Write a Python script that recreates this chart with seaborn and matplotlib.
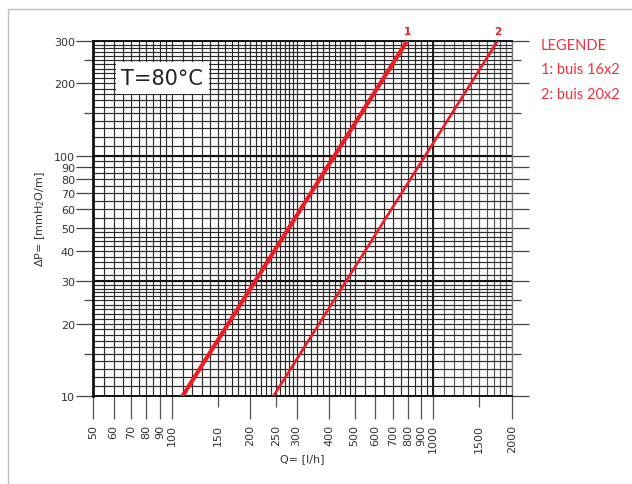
import numpy as np
import pandas as pd
import matplotlib
matplotlib.use("Agg")
import matplotlib.pyplot as plt
import seaborn as sns
from matplotlib.lines import Line2D
from matplotlib.ticker import FixedLocator, FixedFormatter, NullFormatter

# ---- data ----
series_names = ["1", "2"]
q_line1 = [110, 794]
dp_line1 = [10, 300]
q_line2 = [245, 1762]
dp_line2 = [10, 300]

x_major_ticks = [50, 60, 70, 80, 90, 100, 200, 300, 400, 500, 600, 700, 800, 900, 1000, 2000]
x_minor_ticks = [150, 250, 1500]
y_major_ticks = [10, 20, 30, 40, 50, 60, 70, 80, 90, 100, 200, 300]
y_minor_ticks = [15, 25, 150, 250]

legend_title = "LEGENDE"
legend_lines = ["1: buis 16x2", "2: buis 20x2"]
temp_label = "T=80°C"

df = pd.DataFrame({
    "Q": q_line1 + q_line2,
    "dP": dp_line1 + dp_line2,
    "serie": [series_names[0]] * len(q_line1) + [series_names[1]] * len(q_line2),
})

sns.set_theme(style="white")
plt.rcParams["font.family"] = ["DejaVu Sans"]

W, H = 632, 485
fig = plt.figure(figsize=(W / 100, H / 100), dpi=100)
ax = fig.add_axes([93 / W, 1 - 397 / H, (512 - 93) / W, (397 - 42) / H])
ax.set_xscale("log")
ax.set_yscale("log")
ax.set_xlim(50, 2000)
ax.set_ylim(10, 300)

# grid (nomogram style)
xg = np.concatenate([np.arange(50, 100, 5), np.arange(100, 300, 10),
                     np.arange(300, 500, 20), np.arange(500, 1000, 50)])
xg_light = np.arange(1000, 2001, 100)
yg = np.concatenate([np.arange(10, 30, 1), np.arange(30, 50, 2),
                     np.arange(50, 100, 5), np.arange(100, 301, 10)])
ax.vlines(xg, 10, 300, colors="#2a2a2a", linewidth=0.85, zorder=1)
ax.vlines(xg_light, 10, 300, colors="#555555", linewidth=0.85, zorder=1)
ax.hlines(yg, 50, 2000, colors="#2a2a2a", linewidth=0.85, zorder=1)
ax.hlines([100, 30], 50, 2000, colors="#111111", linewidth=1.5, zorder=1)
ax.vlines([1000], 10, 300, colors="#111111", linewidth=1.3, zorder=1)

sns.lineplot(data=df, x="Q", y="dP", hue="serie", size="serie",
             sizes={"1": 3.0, "2": 1.9},
             palette={"1": "#ec1c24", "2": "#ec1c24"},
             legend=False, ax=ax, zorder=5)

# ticks
ax.xaxis.set_major_locator(FixedLocator(x_major_ticks))
ax.xaxis.set_major_formatter(FixedFormatter([str(v) for v in x_major_ticks]))
ax.xaxis.set_minor_locator(FixedLocator(x_minor_ticks))
ax.xaxis.set_minor_formatter(FixedFormatter([str(v) for v in x_minor_ticks]))
ax.yaxis.set_major_locator(FixedLocator(y_major_ticks))
ax.yaxis.set_major_formatter(FixedFormatter([str(v) for v in y_major_ticks]))
ax.yaxis.set_minor_locator(FixedLocator(y_minor_ticks))
ax.yaxis.set_minor_formatter(NullFormatter())

ax.tick_params(axis="x", which="major", bottom=True, length=16.5, width=0.9,
               color="#555555", pad=3.5, labelsize=8, labelcolor="#333333",
               labelrotation=90, direction="out")
ax.tick_params(axis="x", which="minor", bottom=True, length=8, width=0.9,
               color="#555555", pad=12, labelsize=8, labelcolor="#333333",
               labelrotation=90, direction="out")
ax.tick_params(axis="y", which="major", left=True, right=True, length=12, width=0.9,
               color="#444444", pad=1, labelsize=8, labelcolor="#333333", direction="out")
ax.tick_params(axis="y", which="minor", left=True, right=True, length=6.5, width=0.9,
               color="#444444", direction="out")

for side in ["left", "bottom", "top", "right"]:
    ax.spines[side].set_color("#111111")
ax.spines["left"].set_linewidth(2.0)
ax.spines["bottom"].set_linewidth(1.4)
ax.spines["top"].set_linewidth(1.4)
ax.spines["right"].set_linewidth(1.0)
ax.spines["right"].set_color("#777777")

ax.set_xlabel("Q= [l/h]", fontsize=8, color="#333333", labelpad=1)
ax.set_ylabel("ΔP= [mmH$_2$O/m]", fontsize=8, color="#333333")
ax.yaxis.set_label_coords(-0.11, 0.5)

# temperature box
ax.text(0.165, 0.896, temp_label, transform=ax.transAxes, fontsize=15,
        color="#222222", ha="center", va="center", zorder=6,
        bbox=dict(facecolor="white", edgecolor="none", pad=4))

# series numbers above the top
ax.text(q_line1[-1], 330, series_names[0], color="#ec1c24", fontsize=7.5,
        fontweight="bold", ha="center", va="center", clip_on=False)
ax.text(q_line2[-1], 330, series_names[1], color="#ec1c24", fontsize=7.5,
        fontweight="bold", ha="center", va="center", clip_on=False)

# legend text
fig.text(541 / W, 1 - 46 / H, legend_title, color="#ee3340", fontsize=10.5,
         ha="left", va="center", family=["Lato", "DejaVu Sans"])
for i, t in enumerate(legend_lines):
    fig.text(541 / W, 1 - (70 + 25 * i) / H, t, color="#ee3340", fontsize=10.5,
             ha="left", va="center", family=["Lato", "DejaVu Sans"])

# outer partial frame
fig.add_artist(Line2D([8 / W, 8 / W], [0, 1 - 10 / H], transform=fig.transFigure,
                      color="#c0c0c0", linewidth=1.0))
fig.add_artist(Line2D([8 / W, 1], [1 - 10 / H, 1 - 10 / H], transform=fig.transFigure,
                      color="#c0c0c0", linewidth=1.0))

fig.savefig("out.png", dpi=100, facecolor="white")
